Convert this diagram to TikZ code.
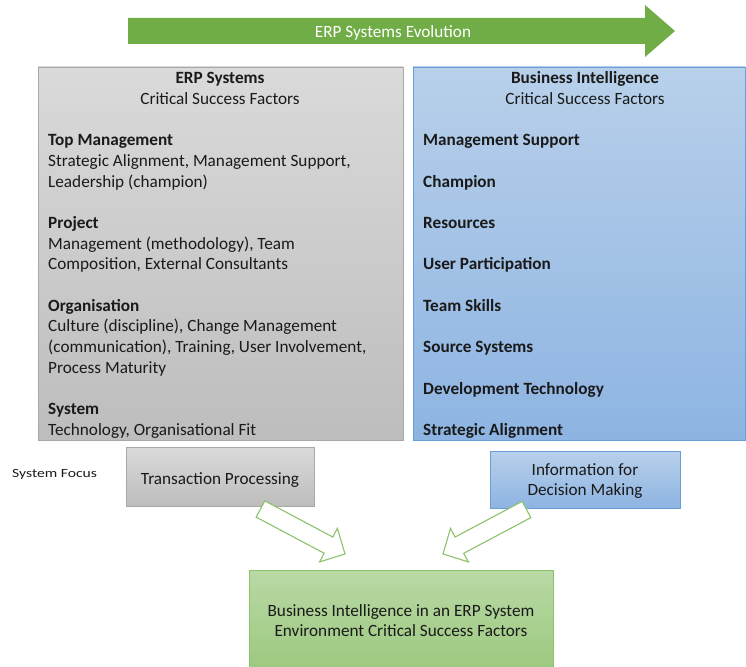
\documentclass[tikz,border=0pt]{standalone}
\usepackage{fontspec}
\setmainfont{Carlito}
\definecolor{arrgreen}{HTML}{70AD47}
\definecolor{grytop}{HTML}{DADADA}
\definecolor{grybot}{HTML}{BDBDBD}
\definecolor{gryline}{HTML}{A8A8A8}
\definecolor{blutop}{HTML}{B8D0EA}
\definecolor{blubot}{HTML}{8DB4E2}
\definecolor{bluline}{HTML}{6A9FD6}
\definecolor{grntop}{HTML}{B9D9A5}
\definecolor{grnbot}{HTML}{9CC87E}
\definecolor{grnline}{HTML}{8CC26A}
\definecolor{txt}{HTML}{1A1A1A}
\newcommand{\mainsize}{\fontsize{17.2}{20.7}\selectfont}
\tikzset{
  base/.style={font=\mainsize, text=txt, inner sep=0pt, yshift=-1.5pt},
  lt/.style={base, anchor=base west},
  ct/.style={base, anchor=base},
  bold/.style={font=\mainsize\bfseries},
  graybox/.style={draw=gryline, line width=0.8pt, top color=grytop, bottom color=grybot},
  bluebox/.style={draw=bluline, line width=0.8pt, top color=blutop, bottom color=blubot},
  greenbox/.style={draw=grnline, line width=0.8pt, top color=grntop, bottom color=grnbot},
  hollow/.style={draw=grnline, line width=1.1pt, fill=white, line join=miter},
}
\begin{document}
\begin{tikzpicture}[x=1pt,y=-1pt]
\useasboundingbox (0,0) rectangle (746,666);
% evolution arrow
\draw[fill=arrgreen, draw=none] (128,18) -- (645,18) -- (645,5) -- (675,31) -- (645,57) -- (645,44) -- (128,44) -- cycle;
\node[ct, text=white] (evo) at (393,36) {ERP Systems Evolution};
% big boxes
\path[graybox] (38,67) rectangle (403,440);
\path[bluebox] (413,67) rectangle (745,440);
% ERP titles
\node[ct, bold] (erpt1) at (220,82) {ERP Systems};
\node[ct] (erpt2) at (220,102.7) {Critical Success Factors};
\node[lt, bold] (e1) at (48,144.1) {Top Management};
\node[lt] (e2) at (48,164.8) {Strategic Alignment, Management Support,};
\node[lt] (e3) at (48,185.5) {Leadership (champion)};
\node[lt, bold] (e4) at (48,226.9) {Project};
\node[lt] (e5) at (48,247.6) {Management (methodology), Team};
\node[lt] (e6) at (48,268.3) {Composition, External Consultants};
\node[lt, bold] (e7) at (48,309.7) {Organisation};
\node[lt] (e8) at (48,330.4) {Culture (discipline), Change Management};
\node[lt] (e9) at (48,351.1) {(communication), Training, User Involvement,};
\node[lt] (e10) at (48,371.8) {Process Maturity};
\node[lt, bold] (e11) at (48,413.2) {System};
\node[lt] (e12) at (48,433.9) {Technology, Organisational Fit};
% BI titles
\node[ct, bold] (bit1) at (585,82) {Business Intelligence};
\node[ct] (bit2) at (585,102.7) {Critical Success Factors};
\foreach \yy/\tt [count=\i] in {144.1/Management Support, 185.5/Champion, 226.9/Resources, 268.3/User Participation, 309.7/Team Skills, 351.1/Source Systems, 392.5/Development Technology, 433.9/Strategic Alignment}
  \node[lt, bold] (b\i) at (423,\yy) {\tt};
% system focus
\node[lt, font=\fontsize{12.5}{15}\selectfont] (sf) at (12,475.5) {\scalebox{1.25}[1]{System Focus}};
\path[graybox] (126,447) rectangle (314,506);
\node[ct] (tp) at (220,482.5) {Transaction Processing};
\path[bluebox] (490,451) rectangle (680,508);
\node[ct] (info1) at (585,473.5) {Information for};
\node[ct] (info2) at (585,494.2) {Decision Making};
% bottom box
\path[greenbox] (249,570) rectangle (553,672);
\node[ct] (env1) at (401,614.5) {Business Intelligence in an ERP System};
\node[ct] (env2) at (401,635.2) {Environment Critical Success Factors};
% hollow arrows
\begin{scope}[shift={(260.5,509)}, rotate=-28]
  \draw[hollow] (0,-9.2) -- (77,-9.2) -- (77,-19) -- (95.7,0) -- (77,19) -- (77,9.2) -- (0,9.2) -- cycle;
\end{scope}
\begin{scope}[shift={(526.5,509.5)}, rotate=208]
  \draw[hollow] (0,-9.2) -- (76,-9.2) -- (76,-19) -- (94.6,0) -- (76,19) -- (76,9.2) -- (0,9.2) -- cycle;
\end{scope}
\end{tikzpicture}
\end{document}
